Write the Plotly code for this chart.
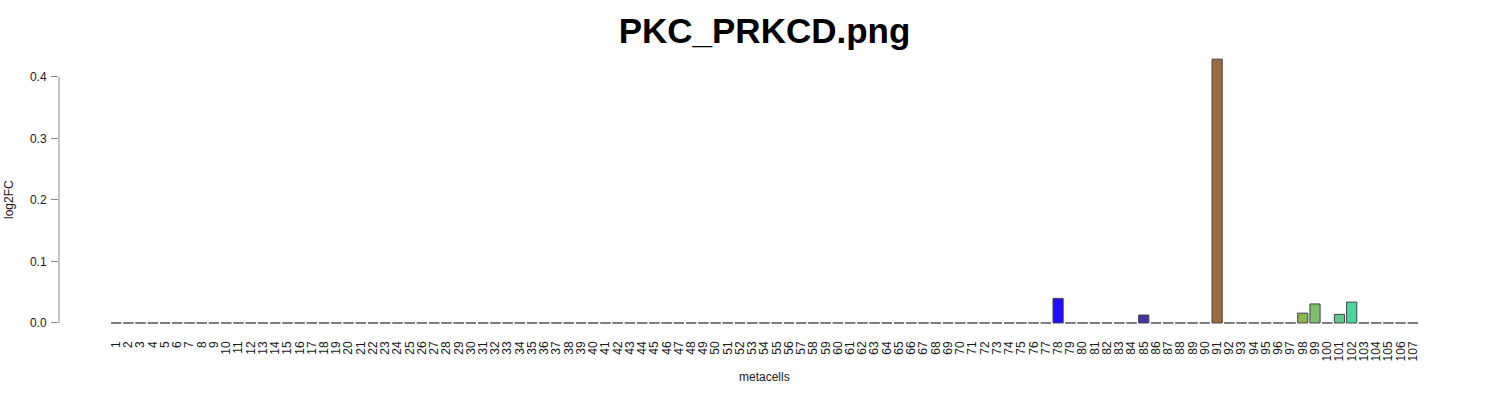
import plotly.graph_objects as go

# metacell ids 1..107 and their log2FC (all zero except a handful)
metacells = [str(i) for i in range(1, 108)]
log2fc = [0.0] * 107
nonzero = {78: 0.040, 85: 0.013, 91: 0.429, 98: 0.016, 99: 0.031, 101: 0.014, 102: 0.034}
for k, v in nonzero.items():
    log2fc[k - 1] = v

bar_colors = {78: "#1f0dfb", 85: "#4533aa", 91: "#9b6d3b", 98: "#8ab552",
              99: "#7cbf6c", 101: "#5ccb8b", 102: "#4cd69d"}
colors = [bar_colors.get(i + 1, "#bebebe") for i in range(107)]

y_ticks = [0.0, 0.1, 0.2, 0.3, 0.4]

fig = go.Figure()
fig.add_trace(go.Bar(
    x=metacells,
    y=log2fc,
    marker=dict(color=colors, line=dict(color="#444444", width=1)),
    width=1 / 1.2,
))

# zero-height bars are drawn by R as a flat outline; plotly skips them, so add the outline
zx, zy = [], []
for i, v in enumerate(log2fc):
    if v == 0:
        zx += [i - 0.5 / 1.2, i + 0.5 / 1.2, None]
        zy += [v, v, None]
fig.add_trace(go.Scatter(x=zx, y=zy, mode="lines", xaxis="x2",
                         line=dict(color="#8a8a8a", width=1), hoverinfo="skip"))

font = "Liberation Sans, Arial, sans-serif"
fig.update_layout(
    width=1500,
    height=400,
    margin=dict(l=59, r=30, t=49, b=66, pad=0, autoexpand=False),
    plot_bgcolor="white",
    paper_bgcolor="white",
    showlegend=False,
    font=dict(family=font, size=12, color="#1a1a1a"),
    title=dict(text="<b>PKC_PRKCD.png</b>", x=0.5, xref="paper", xanchor="center",
               y=1 - 31 / 400, yref="container", yanchor="middle",
               font=dict(family=font, size=35, color="black")),
    xaxis=dict(type="category", range=[-4.67, 110.67], showgrid=False, zeroline=False,
               showline=False, ticks="", tickangle=-90, tickfont=dict(size=12),
               tickmode="array", tickvals=metacells, ticktext=metacells,
               ticklabelstandoff=4, automargin=False),
    xaxis2=dict(overlaying="x", range=[-4.67, 110.67], visible=False),
    yaxis=dict(range=[-0.0179, 0.4455], showgrid=False, zeroline=False, showline=False,
               tickvals=y_ticks, tickformat=".1f", ticks="outside", ticklen=7,
               tickcolor="#888888", tickwidth=1, tickfont=dict(size=12),
               ticklabelstandoff=2, automargin=False),
    shapes=[dict(type="line", xref="paper", yref="y", x0=0, x1=0,
                 y0=y_ticks[0], y1=y_ticks[-1], line=dict(color="#888888", width=1))],
    annotations=[
        dict(text="metacells", xref="paper", yref="paper", x=0.5, y=-(377 - 334) / 285,
             showarrow=False, xanchor="center", yanchor="middle", font=dict(size=12)),
        dict(text="log2FC", xref="paper", yref="paper", x=-(59 - 9) / 1411, y=(334 - 200) / 285,
             showarrow=False, textangle=-90, xanchor="center", yanchor="middle",
             font=dict(size=12)),
    ],
)

# drop the page's default body margin so the 1500x400 figure fills the window
fig.write_html("out.html", config={"displayModeBar": False},
               post_script="document.body.style.margin = '0px';")
